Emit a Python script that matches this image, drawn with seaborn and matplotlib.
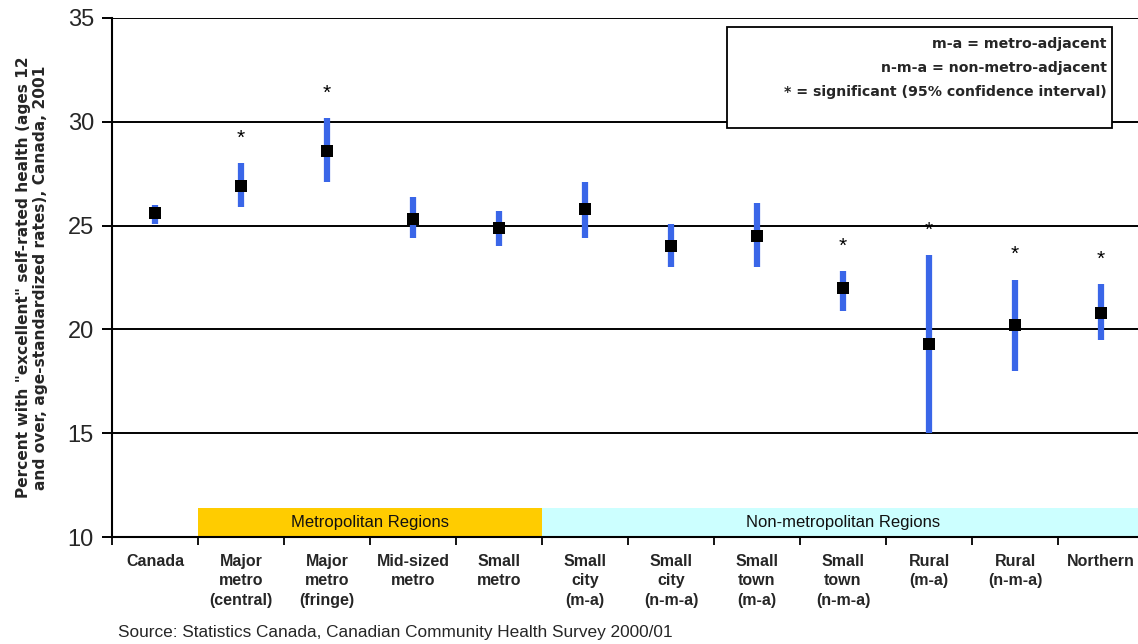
import matplotlib
matplotlib.use("Agg")
import matplotlib.pyplot as plt
from matplotlib.patches import Rectangle
import seaborn as sns
import pandas as pd
import numpy as np

# Self-rated health by region type, with 95% confidence intervals
categories = [
    "Canada", "Major\nmetro\n(central)", "Major\nmetro\n(fringe)", "Mid-sized\nmetro",
    "Small\nmetro", "Small\ncity\n(m-a)", "Small\ncity\n(n-m-a)", "Small\ntown\n(m-a)",
    "Small\ntown\n(n-m-a)", "Rural\n(m-a)", "Rural\n(n-m-a)", "Northern",
]
rate = [25.6, 26.9, 28.6, 25.3, 24.9, 25.8, 24.0, 24.5, 22.0, 19.3, 20.2, 20.8]
ci_low = [25.1, 25.9, 27.1, 24.4, 24.0, 24.4, 23.0, 23.0, 20.9, 15.0, 18.0, 19.5]
ci_high = [26.0, 28.0, 30.2, 26.4, 25.7, 27.1, 25.1, 26.1, 22.8, 23.6, 22.4, 22.2]
significant = [False, True, True, False, False, False, False, False, True, True, True, True]

region_groups = ["Metropolitan Regions", "Non-metropolitan Regions"]
group_first = [1, 5]
group_last = [4, 11]
group_colors = ["#FFCC00", "#CCFFFF"]

yticks = [10, 15, 20, 25, 30, 35]

key_lines = ["m-a = metro-adjacent", "n-m-a = non-metro-adjacent",
             "* = significant (95% confidence interval)"]

df = pd.DataFrame({"category": categories, "rate": rate,
                   "low": ci_low, "high": ci_high, "sig": significant})

sns.set_theme(style="white")
plt.rcParams["font.family"] = ["Liberation Sans", "DejaVu Sans"]
wide = ["DejaVu Sans"]

fig = plt.figure(figsize=(11.38, 6.44), dpi=100)
ax = fig.add_axes([112 / 1138, 1 - 537 / 644, 1032 / 1138, 519 / 644])

# horizontal reference lines
for v in yticks[1:]:
    ax.axhline(v, color="black", lw=1.4, zorder=1)

pos = np.arange(len(df))

# confidence intervals
ax.vlines(pos, df["low"], df["high"], color="#3A66E8", lw=4.5, zorder=2)

# point estimates
sns.scatterplot(data=df, x="category", y="rate", marker="s", s=80,
                color="black", edgecolor="black", linewidth=0, ax=ax, zorder=3)

# significance markers above the intervals
for i, row in df.iterrows():
    if row["sig"]:
        ax.annotate("*", (i, row["high"]), xytext=(0, 11), textcoords="offset points",
                    ha="center", va="bottom", fontsize=15, color="black", zorder=5)

# region bands along the category axis
for name, a, b, c in zip(region_groups, group_first, group_last, group_colors):
    ax.axvspan(a - 0.5, b + 0.5, ymin=0, ymax=1.4 / 25, color=c, lw=0, zorder=1.5)
    ax.text((a + b) / 2, 10.7, name, ha="center", va="center", fontsize=12,
            color="#111111", zorder=4)

ax.set_xlim(-0.5, len(df) - 0.5)
ax.set_ylim(10, 35)
ax.set_yticks(yticks)
ax.set_yticklabels([str(t) for t in yticks], fontsize=17)
ax.set_xticks(pos)
ax.set_xticklabels(categories, fontsize=11.5, fontweight="bold", linespacing=1.4,
                   va="top")
ax.tick_params(axis="x", length=0, pad=12)
ax.set_xticks(np.arange(-0.5, len(df) - 0.5, 1.0), minor=True)
ax.tick_params(axis="x", which="minor", length=6, width=1.3, direction="out",
               color="black", bottom=True)
ax.tick_params(axis="y", length=7, width=1.4, direction="out", color="black",
               left=True, pad=6)
ax.set_xlabel("")
ax.set_ylabel("Percent with \"excellent\" self-rated health (ages 12\n"
              "and over, age-standardized rates), Canada, 2001",
              fontsize=11.1, fontweight="bold", labelpad=14, linespacing=1.2,
              family=wide)

for side in ["top", "right"]:
    ax.spines[side].set_visible(False)
for side in ["left", "bottom"]:
    ax.spines[side].set_color("black")
    ax.spines[side].set_linewidth(1.5)

# abbreviation key
ax.add_patch(Rectangle((0.596, 0.788), 0.373, 0.195, transform=ax.transAxes,
                       facecolor="white", edgecolor="black", lw=1.3, zorder=5,
                       clip_on=False))
for line, yy in zip(key_lines, [0.950, 0.904, 0.857]):
    ax.text(0.964, yy, line, transform=ax.transAxes, ha="right", va="center",
            fontsize=10.2, fontweight="bold", zorder=6, family=wide)

fig.text(118 / 1138, 1 - 632 / 644,
         "Source: Statistics Canada, Canadian Community Health Survey 2000/01",
         ha="left", va="center", fontsize=12.4)

fig.savefig("out.png", dpi=100)
